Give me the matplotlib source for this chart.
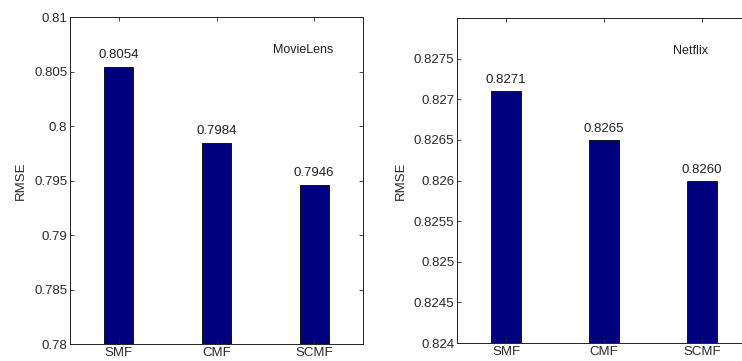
import matplotlib
matplotlib.use("Agg")
import matplotlib.pyplot as plt
import numpy as np

plt.rcParams['font.family'] = ['Liberation Sans', 'DejaVu Sans']

methods = ["SMF", "CMF", "SCMF"]
movielens_rmse = [0.8054, 0.7984, 0.7946]
netflix_rmse = [0.8271, 0.8265, 0.8260]
movielens_yticks = [0.78, 0.785, 0.79, 0.795, 0.80, 0.805, 0.81]
movielens_yticklabels = ["0.78", "0.785", "0.79", "0.795", "0.8", "0.805", "0.81"]
netflix_yticks = [0.824, 0.8245, 0.825, 0.8255, 0.826, 0.8265, 0.827, 0.8275]
netflix_yticklabels = ["0.824", "0.8245", "0.825", "0.8255", "0.826", "0.8265", "0.827", "0.8275"]

bar_color = "#00007f"
fs = 9.5

fig = plt.figure(figsize=(7.42, 3.61), dpi=100)
ax1 = fig.add_axes([70/742, 17/361, 293/742, 327/361])
ax2 = fig.add_axes([457/742, 18/361, 294/742, 325/361])

def draw(ax, vals, ylim, yticks, ylabels, name, label_off):
    x = np.arange(1, len(vals) + 1)
    ax.bar(x, np.array(vals) - ylim[0], bottom=ylim[0], width=0.3,
           color=bar_color, edgecolor="black", linewidth=0.6)
    ax.set_xlim(0.5, 3.5)
    ax.set_ylim(*ylim)
    ax.set_xticks(x)
    ax.set_xticklabels(methods)
    ax.set_yticks(yticks)
    ax.set_yticklabels(ylabels)
    ax.tick_params(direction="in", length=3, width=0.6, top=True, right=True,
                   labelsize=fs, colors="#2a2a2a", pad=2)
    for s in ax.spines.values():
        s.set_linewidth(0.7)
        s.set_color("#222222")
    ax.set_ylabel("RMSE", fontsize=fs, color="#2a2a2a", labelpad=5)
    for xi, v in zip(x, vals):
        ax.text(xi, v + label_off, "%.4f" % v, ha="center", va="bottom",
                fontsize=fs, color="#222222")
    ax.text(0.795, 0.90, name, transform=ax.transAxes, ha="center",
            va="center", fontsize=9, color="#222222")

draw(ax1, movielens_rmse, (0.78, 0.81), movielens_yticks, movielens_yticklabels,
     "MovieLens", 0.00055)
draw(ax2, netflix_rmse, (0.824, 0.828), netflix_yticks, netflix_yticklabels,
     "Netflix", 0.00006)

fig.savefig("out.png", dpi=100)
